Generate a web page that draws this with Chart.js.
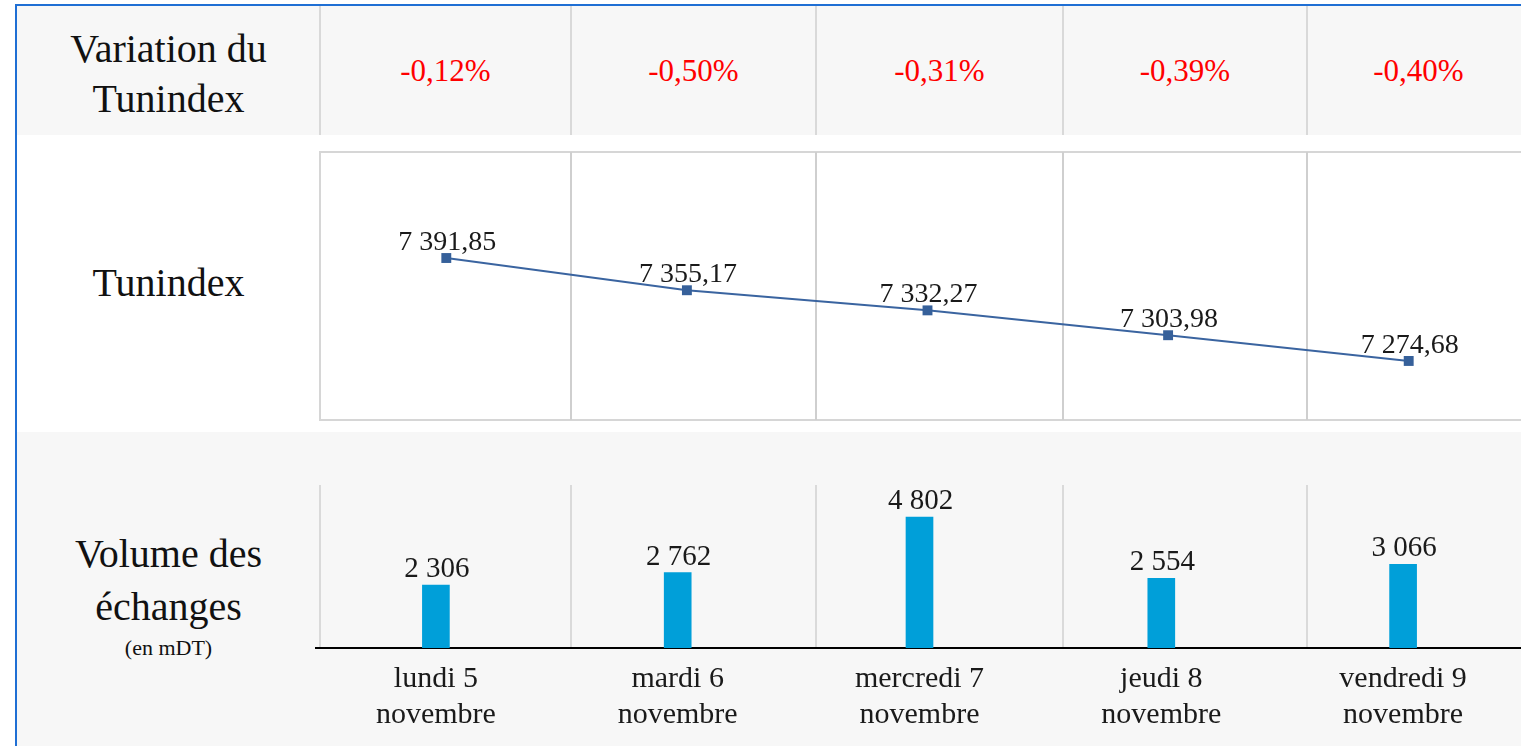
<!DOCTYPE html>
<html>
<head>
<meta charset="utf-8">
<script src="https://cdn.jsdelivr.net/npm/chart.js@4.4.0/dist/chart.umd.min.js"></script>
<style>
html,body{margin:0;padding:0;width:1521px;height:746px;overflow:hidden;background:#fff;font-family:"Liberation Serif",serif;color:#111;}
.abs{position:absolute}
.lbl{position:absolute;left:17px;width:303px;text-align:center;white-space:nowrap}
.pct{position:absolute;top:55px;font-size:31px;line-height:31px;color:#ff0000;text-align:center;white-space:nowrap}
</style>
</head>
<body>
<div class="abs" style="left:17px;top:6px;width:1504px;height:129px;background:#f7f7f7"></div>
<div class="abs" style="left:17px;top:432px;width:1504px;height:314px;background:#f7f7f7"></div>
<div class="abs" style="left:319px;top:151px;width:1215px;height:270px;border:2px solid #d6d6d6;box-sizing:border-box"></div>
<div id="lines"></div>

<div class="lbl" style="top:24px;font-size:40px;line-height:50px">Variation du<br>Tunindex</div>
<div class="lbl" style="top:258px;font-size:40px;line-height:50px">Tunindex</div>
<div class="lbl" style="top:527px;font-size:40px;line-height:53px">Volume des<br>échanges</div>
<div class="lbl" style="top:637px;font-size:22px;line-height:21px">(en mDT)</div>
<div id="pcts"></div>

<div class="abs" style="left:326px;top:152px;width:1203px;height:268px"><canvas id="lineChart"></canvas></div>
<div class="abs" style="left:315px;top:457px;width:1209px;height:289px"><canvas id="barChart"></canvas></div>

<div class="abs" style="left:15px;top:4px;width:1506px;height:2px;background:#1f6fd4"></div>
<div class="abs" style="left:15px;top:4px;width:2px;height:742px;background:#1f6fd4"></div>

<script>
var jours = [["lundi 5","novembre"],["mardi 6","novembre"],["mercredi 7","novembre"],["jeudi 8","novembre"],["vendredi 9","novembre"]];
var variation = [-0.12, -0.50, -0.31, -0.39, -0.40];
var tunindex = [7391.85, 7355.17, 7332.27, 7303.98, 7274.68];
var volume = [2306, 2762, 4802, 2554, 3066];

// colonnes du tableau
var cols = [320, 571, 816, 1063, 1307, 1530];

function fmt(v, dec){
    var s = Math.abs(v).toFixed(dec).split(".");
    var ent = s[0].replace(/\B(?=(\d{3})+(?!\d))/g, " ");
    return (v < 0 ? "-" : "") + ent + (dec > 0 ? "," + s[1] : "");
}

var lines = document.getElementById("lines");
var pcts = document.getElementById("pcts");
for (var i = 0; i < 5; i++) {
    var x = cols[i];
    lines.innerHTML += '<div class="abs" style="left:'+(x-1)+'px;top:6px;width:2px;height:129px;background:#d9d9d9"></div>';
    if (i > 0) lines.innerHTML += '<div class="abs" style="left:'+(x-1)+'px;top:152px;width:2px;height:268px;background:#cfcfcf"></div>';
    lines.innerHTML += '<div class="abs" style="left:'+(x-1)+'px;top:485px;width:2px;height:163px;background:#dadada"></div>';
    pcts.innerHTML += '<div class="pct" style="left:'+cols[i]+'px;width:'+(cols[i+1]-cols[i])+'px">'+fmt(variation[i],2)+'%</div>';
}

var valueLabels = {
    id: "valueLabels",
    afterDatasetsDraw: function(chart, args, opts){
        var ctx = chart.ctx;
        var meta = chart.getDatasetMeta(0);
        var data = chart.data.datasets[0].data;
        ctx.save();
        ctx.font = opts.size + 'px "Liberation Serif"';
        ctx.fillStyle = "#1a1a1a";
        ctx.textAlign = "center";
        ctx.textBaseline = "alphabetic";
        meta.data.forEach(function(el, i){
            ctx.fillText(fmt(data[i], opts.dec), el.x + 1, el.y - 8);
        });
        ctx.restore();
    }
};

new Chart(document.getElementById("lineChart").getContext("2d"), {
    type: "line",
    data: {
        labels: jours,
        datasets: [{
            data: tunindex,
            borderColor: "#3a64a0",
            borderWidth: 2,
            pointStyle: "rect",
            pointRadius: 7,
            pointBackgroundColor: "#36609a",
            pointBorderWidth: 0,
            tension: 0,
            clip: false
        }]
    },
    options: {
        responsive: true,
        maintainAspectRatio: false,
        animation: false,
        layout: {padding: 0, autoPadding: false},
        scales: {
            x: {display: false, offset: true},
            y: {display: false, min: 7207.5, max: 7512.5}
        },
        plugins: {legend: {display: false}, tooltip: {enabled: false}, valueLabels: {dec: 2, size: 28}}
    },
    plugins: [valueLabels]
});

new Chart(document.getElementById("barChart").getContext("2d"), {
    type: "bar",
    data: {
        labels: jours,
        datasets: [{
            data: volume,
            backgroundColor: "#009fd9",
            barThickness: 27
        }]
    },
    options: {
        responsive: true,
        maintainAspectRatio: false,
        animation: false,
        layout: {padding: 0, autoPadding: false},
        scales: {
            x: {
                grid: {display: true, drawOnChartArea: false, drawTicks: false},
                border: {display: true, color: "#000", width: 2},
                ticks: {color: "#1a1a1a", padding: 13, font: {family: "Liberation Serif", size: 30, lineHeight: 1.2}},
                afterFit: function(s){ s.height = 98; }
            },
            y: {display: false, min: 0, max: 7000}
        },
        plugins: {legend: {display: false}, tooltip: {enabled: false}, valueLabels: {dec: 0, size: 29}}
    },
    plugins: [valueLabels]
});
</script>
</body>
</html>
